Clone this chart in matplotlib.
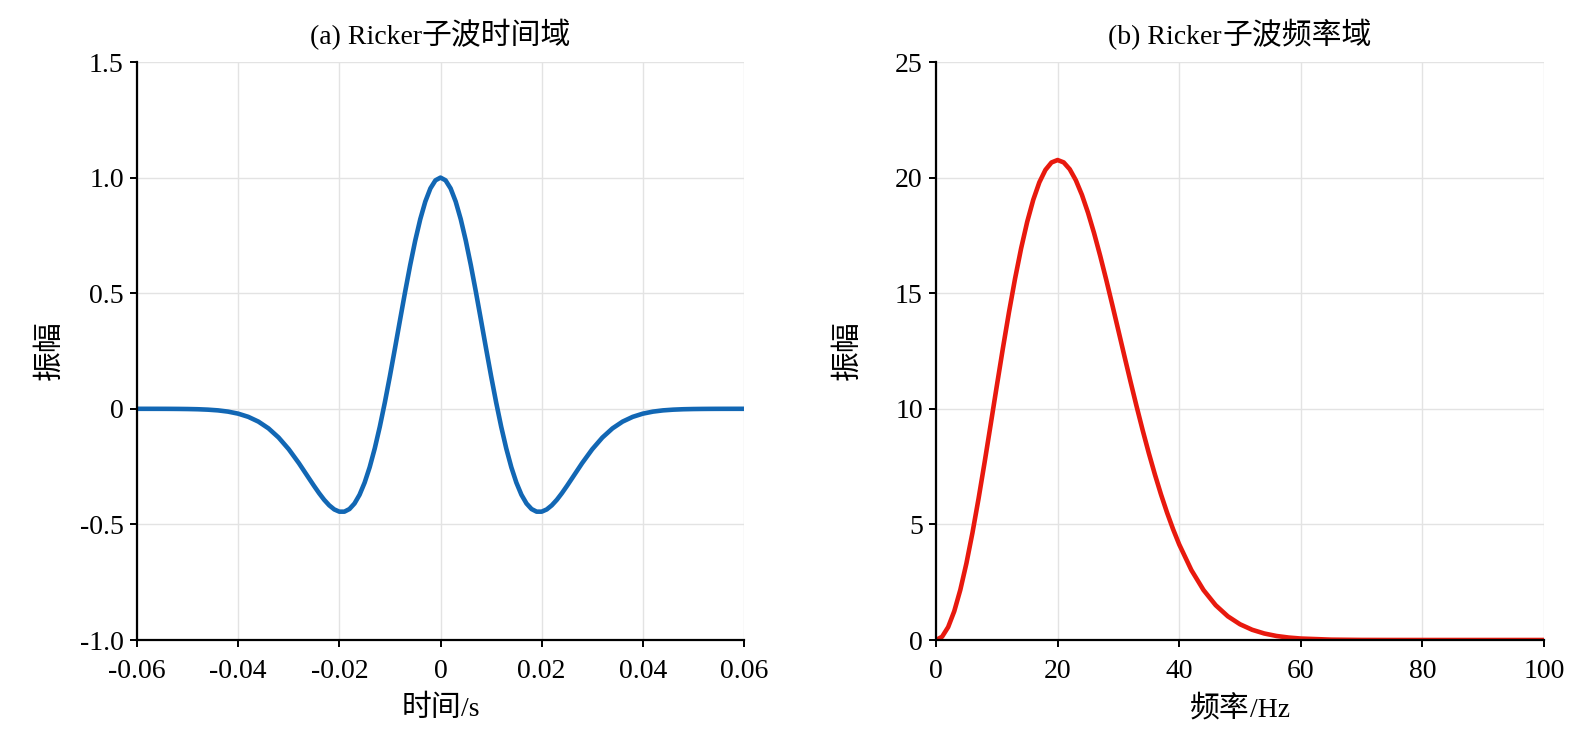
import matplotlib
matplotlib.use("Agg")
import matplotlib.pyplot as plt
from matplotlib.offsetbox import HPacker, TextArea, AnchoredOffsetbox

FAM = ['Liberation Serif', 'Noto Sans CJK SC', 'DejaVu Sans']
plt.rcParams['font.family'] = FAM
plt.rcParams['axes.unicode_minus'] = False

# ---- data ----
time_s = [-0.060, -0.058, -0.056, -0.054, -0.052, -0.050, -0.048, -0.046, -0.044, -0.042,
          -0.040, -0.038, -0.036, -0.034, -0.032, -0.030, -0.028, -0.026,
          -0.025, -0.024, -0.023, -0.022, -0.021, -0.020, -0.019, -0.018, -0.017, -0.016,
          -0.015, -0.014, -0.013, -0.012, -0.011, -0.010, -0.009, -0.008, -0.007, -0.006,
          -0.005, -0.004, -0.003, -0.002, -0.001, 0.000,
          0.001, 0.002, 0.003, 0.004, 0.005, 0.006, 0.007, 0.008, 0.009, 0.010,
          0.011, 0.012, 0.013, 0.014, 0.015, 0.016, 0.017, 0.018, 0.019, 0.020,
          0.021, 0.022, 0.023, 0.024, 0.025,
          0.026, 0.028, 0.030, 0.032, 0.034, 0.036, 0.038, 0.040, 0.042, 0.044,
          0.046, 0.048, 0.050, 0.052, 0.054, 0.056, 0.058, 0.060]
time_amp = [-0.00002, -0.00004, -0.0001, -0.0002, -0.00047, -0.00097, -0.0019, -0.0037, -0.0068, -0.0122,
            -0.0210, -0.0348, -0.0554, -0.0847, -0.1244, -0.1749, -0.2350, -0.3008,
            -0.3336, -0.3650, -0.3936, -0.4175, -0.4353, -0.4449, -0.4449, -0.4336, -0.4096, -0.3718,
            -0.3194, -0.2526, -0.1716, -0.0776, 0.0277, 0.1418, 0.2618, 0.3842, 0.5053, 0.6209,
            0.7272, 0.8202, 0.8965, 0.9532, 0.9882, 1.0000,
            0.9882, 0.9532, 0.8965, 0.8202, 0.7272, 0.6209, 0.5053, 0.3842, 0.2618, 0.1418,
            0.0277, -0.0776, -0.1716, -0.2526, -0.3194, -0.3718, -0.4096, -0.4336, -0.4449, -0.4449,
            -0.4353, -0.4175, -0.3936, -0.3650, -0.3336,
            -0.3008, -0.2350, -0.1749, -0.1244, -0.0847, -0.0554, -0.0348, -0.0210, -0.0122, -0.0068,
            -0.0037, -0.0019, -0.00097, -0.00047, -0.0002, -0.0001, -0.00004, -0.00002]

freq_hz = [0, 1, 2, 3, 4, 5, 6, 7, 8, 9, 10, 11, 12, 13, 14, 15, 16, 17, 18, 19, 20,
           21, 22, 23, 24, 25, 26, 27, 28, 29, 30, 31, 32, 33, 34, 35, 36, 37, 38, 39, 40,
           42, 44, 46, 48, 50, 52, 54, 56, 58, 60, 65, 70, 75, 80, 90, 100]
freq_amp = [0.0, 0.141, 0.559, 1.242, 2.169, 3.313, 4.642, 6.116, 7.694, 9.333, 10.987,
            12.614, 14.174, 15.627, 16.940, 18.086, 19.043, 19.796, 20.334, 20.655, 20.760,
            20.658, 20.361, 19.886, 19.254, 18.482, 17.598, 16.622, 15.580, 14.493, 13.383,
            12.268, 11.168, 10.097, 9.064, 8.084, 7.161, 6.301, 5.511, 4.788, 4.134,
            3.025, 2.160, 1.505, 1.024, 0.681, 0.442, 0.281, 0.174, 0.106, 0.063,
            0.015, 0.003, 0.0006, 0.0001, 0.0, 0.0]

time_ticks = [-0.06, -0.04, -0.02, 0, 0.02, 0.04, 0.06]
time_tick_labels = ['-0.06', '-0.04', '-0.02', '0', '0.02', '0.04', '0.06']
time_yticks = [-1.0, -0.5, 0, 0.5, 1.0, 1.5]
time_ytick_labels = ['-1.0', '-0.5', '0', '0.5', '1.0', '1.5']
freq_ticks = [0, 20, 40, 60, 80, 100]
freq_yticks = [0, 5, 10, 15, 20, 25]

# titles / labels split into Latin part and CJK part (CJK drawn slightly larger, as in the reference)
title_parts = [[('(a) Ricker', 'lat'), ('子波时间域', 'cjk')],
               [('(b) Ricker', 'lat'), ('子波频率域', 'cjk')]]
xlabel_parts = [[('时间', 'cjk'), ('/s', 'lat')],
                [('频率', 'cjk'), ('/Hz', 'lat')]]
ylabel = '振幅'

W, H = 1594, 751
fig = plt.figure(figsize=(W / 100, H / 100), dpi=100)
top, bottom = 62, 640
ax1 = fig.add_axes([137 / W, 1 - bottom / H, 607 / W, (bottom - top) / H])
ax2 = fig.add_axes([936 / W, 1 - bottom / H, 608 / W, (bottom - top) / H])
ax_h = bottom - top

tick_fs = 20
lat_fs = 20
cjk_fs = 21.5

def sizes(kind):
    return lat_fs if kind == 'lat' else cjk_fs

for ax in (ax1, ax2):
    ax.spines['top'].set_visible(False)
    ax.spines['right'].set_visible(False)
    ax.spines['left'].set_linewidth(1.6)
    ax.spines['bottom'].set_linewidth(1.6)
    ax.grid(True, color='#e3e3e3', linewidth=1.0)
    ax.set_axisbelow(True)
    ax.tick_params(direction='out', length=5, width=1.4, labelsize=tick_fs)
    ax.tick_params(axis='x', pad=9)
    ax.tick_params(axis='y', pad=4.5)

ax1.plot(time_s, time_amp, color='#1267b4', linewidth=3.3, solid_capstyle='round')
ax1.set_xlim(-0.06, 0.06)
ax1.set_ylim(-1.0, 1.5)
ax1.set_xticks(time_ticks, time_tick_labels)
ax1.set_yticks(time_yticks, time_ytick_labels)

ax2.plot(freq_hz, freq_amp, color='#e8190e', linewidth=3.3, solid_capstyle='round')
ax2.set_xlim(0, 100)
ax2.set_ylim(0, 25)
ax2.set_xticks(freq_ticks, [str(v) for v in freq_ticks])
ax2.set_yticks(freq_yticks, [str(v) for v in freq_yticks])

def packed(parts):
    kids = [TextArea(s, textprops=dict(fontsize=sizes(k), family=FAM)) for s, k in parts]
    return HPacker(children=kids, align='baseline', pad=0, sep=0)

for ax, tp, xp in zip((ax1, ax2), title_parts, xlabel_parts):
    t_box = AnchoredOffsetbox(loc='lower center', child=packed(tp), pad=0, borderpad=0,
                              frameon=False, bbox_to_anchor=(0.5, 1 + 12 / ax_h),
                              bbox_transform=ax.transAxes)
    ax.add_artist(t_box)
    x_box = AnchoredOffsetbox(loc='upper center', child=packed(xp), pad=0, borderpad=0,
                              frameon=False, bbox_to_anchor=(0.5, -55 / ax_h),
                              bbox_transform=ax.transAxes)
    ax.add_artist(x_box)

fig.text(50 / W, 1 - 350 / H, ylabel, fontsize=cjk_fs, rotation=90, ha='center', va='center')
fig.text(848 / W, 1 - 350 / H, ylabel, fontsize=cjk_fs, rotation=90, ha='center', va='center')

fig.savefig('out.png', dpi=100)
